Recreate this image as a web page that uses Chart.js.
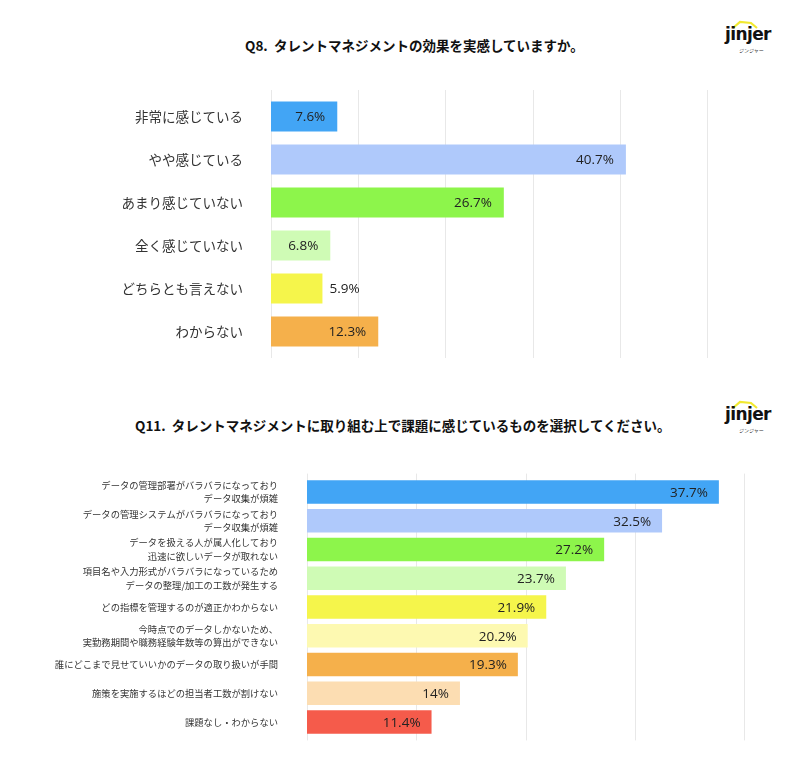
<!DOCTYPE html>
<html><head><meta charset="utf-8">
<script src="https://cdn.jsdelivr.net/npm/chart.js@4.4.1/dist/chart.umd.min.js"></script>
<style>
html,body{margin:0;padding:0;background:#fff;width:800px;height:765px;overflow:hidden;position:relative;font-family:"Noto Sans CJK JP",sans-serif;}
.title{position:absolute;white-space:nowrap;font-weight:bold;font-size:13.5px;color:#111;line-height:16px;}
.logo{position:absolute;width:70px;height:45px;}
.logo svg{position:absolute;left:0;top:0;}
.logo .word{position:absolute;left:3px;top:6px;font-family:"DejaVu Sans",sans-serif;font-weight:bold;font-size:17px;letter-spacing:-0.6px;color:#111;line-height:20px;}
.logo .kana{position:absolute;left:17px;top:29px;font-size:5px;color:#333;line-height:6px;}
canvas{position:absolute;left:0;}
#dbg{position:absolute;left:0;top:0;font-size:9px;color:#fff;}
</style></head>
<body>
<div class="title" style="left:245px;top:37px;">Q8.&nbsp; タレントマネジメントの効果を実感していますか。</div>
<div class="logo" style="left:722px;top:18px;">
  <svg width="70" height="12"><polyline points="11,10 18,4 29,5 35,10" fill="none" stroke="#F2E930" stroke-width="2.2"/></svg>
  <div class="word">jinjer</div><div class="kana">ジンジャー</div>
</div>
<div class="title" style="left:135px;top:417px;">Q11.&nbsp; タレントマネジメントに取り組む上で課題に感じているものを選択してください。</div>
<div class="logo" style="left:722px;top:398px;">
  <svg width="70" height="12"><polyline points="11,10 18,4 29,5 35,10" fill="none" stroke="#F2E930" stroke-width="2.2"/></svg>
  <div class="word">jinjer</div><div class="kana">ジンジャー</div>
</div>
<canvas id="c1" width="800" height="320" style="top:60px;"></canvas>
<canvas id="c2" width="800" height="325" style="top:440px;"></canvas>
<script>
const q8Labels = ['非常に感じている','やや感じている','あまり感じていない','全く感じていない','どちらとも言えない','わからない'];
const q8Values = [7.6, 40.7, 26.7, 6.8, 5.9, 12.3];
const q8Colors = ['#42A5F5','#AFC9FB','#8DF54B','#CFFBB5','#F5F54B','#F5B04B'];
const q8Ticks = [0, 10, 20, 30, 40, 50];

const q11Labels = [
  ['データの管理部署がバラバラになっており','データ収集が煩雑'],
  ['データの管理システムがバラバラになっており','データ収集が煩雑'],
  ['データを扱える人が属人化しており','迅速に欲しいデータが取れない'],
  ['項目名や入力形式がバラバラになっているため','データの整理/加工の工数が発生する'],
  'どの指標を管理するのが適正かわからない',
  ['今時点でのデータしかないため、','実勤務期間や職務経験年数等の算出ができない'],
  '誰にどこまで見せていいかのデータの取り扱いが手間',
  '施策を実施するほどの担当者工数が割けない',
  '課題なし・わからない'
];
const q11Values = [37.7, 32.5, 27.2, 23.7, 21.9, 20.2, 19.3, 14, 11.4];
const q11Colors = ['#42A5F5','#AFC9FB','#8DF54B','#CFFBB5','#F5F54B','#FDF9B1','#F5B04B','#FCDDB2','#F55B4B'];
const q11Ticks = [0, 10, 20, 30, 40];

const vgrid = {
  id: 'vgrid',
  beforeDatasetsDraw(chart, args, o) {
    const {ctx, chartArea: a, scales: {x}} = chart;
    ctx.save();
    ctx.strokeStyle = '#e8e8e8'; ctx.lineWidth = 1;
    o.ticks.forEach(v => {
      const px = Math.round(x.getPixelForValue(v)) + 0.5;
      ctx.beginPath(); ctx.moveTo(px, a.top - o.ext); ctx.lineTo(px, a.bottom + o.ext); ctx.stroke();
    });
    ctx.restore();
  }
};
const vlabels = {
  id: 'vlabels',
  afterDatasetsDraw(chart, args, o) {
    const {ctx} = chart;
    const meta = chart.getDatasetMeta(0);
    const data = chart.data.datasets[0].data;
    ctx.save();
    ctx.font = o.font; ctx.fillStyle = '#222'; ctx.textBaseline = 'middle';
    meta.data.forEach((bar, i) => {
      const v = data[i]; const t = v + '%';
      if (v < o.outsideBelow) { ctx.textAlign = 'left'; ctx.fillText(t, bar.x + o.outPad, bar.y + 1); }
      else { ctx.textAlign = 'right'; ctx.fillText(t, bar.x - o.inPad, bar.y + 1); }
    });
    ctx.restore();
  }
};

function makeChart(id, labels, values, colors, ticks, cfg) {
  return new Chart(document.getElementById(id), {
    type: 'bar',
    data: { labels: labels, datasets: [{ data: values, backgroundColor: colors, borderWidth: 0, barPercentage: cfg.barPct, categoryPercentage: 1 }] },
    options: {
      indexAxis: 'y', responsive: false, maintainAspectRatio: false, animation: false, devicePixelRatio: 1,
      layout: { padding: { left: 0, right: cfg.right, top: cfg.top, bottom: cfg.bottom } },
      scales: {
        x: { display: false, min: 0, max: ticks[ticks.length - 1] },
        y: {
          grid: { display: false, drawTicks: false, tickLength: 0 },
          border: { display: false },
          ticks: { autoSkip: false, color: '#333', padding: cfg.labelPad, font: { family: '"Noto Sans CJK JP", sans-serif', size: cfg.labelSize, lineHeight: cfg.labelLH } },
          afterFit(s) { s.width = cfg.left; s.paddingTop = 0; s.paddingBottom = 0; }
        }
      },
      plugins: {
        legend: { display: false }, tooltip: { enabled: false },
        vgrid: { ticks: ticks, ext: cfg.ext },
        vlabels: { font: cfg.valFont, outsideBelow: cfg.outsideBelow, inPad: cfg.inPad, outPad: 7 }
      }
    },
    plugins: [vgrid, vlabels]
  });
}

const ch1 = makeChart('c1', q8Labels, q8Values, q8Colors, q8Ticks, {
  barPct: 0.70, left: 271, right: 93, top: 35, bottom: 27, labelPad: 28, labelSize: 13.5, labelLH: 1.2,
  ext: 5, valFont: '13.5px "Open Sans", sans-serif', outsideBelow: 6, inPad: 12
});
const ch2 = makeChart('c2', q11Labels, q11Values, q11Colors, q11Ticks, {
  barPct: 0.82, left: 307, right: 56, top: 37.6, bottom: 28.6, labelPad: 29, labelSize: 9.3, labelLH: '13.5px',
  ext: 4, valFont: '13.5px "Open Sans", sans-serif', outsideBelow: 0, inPad: 11
});
</script>
</body></html>
